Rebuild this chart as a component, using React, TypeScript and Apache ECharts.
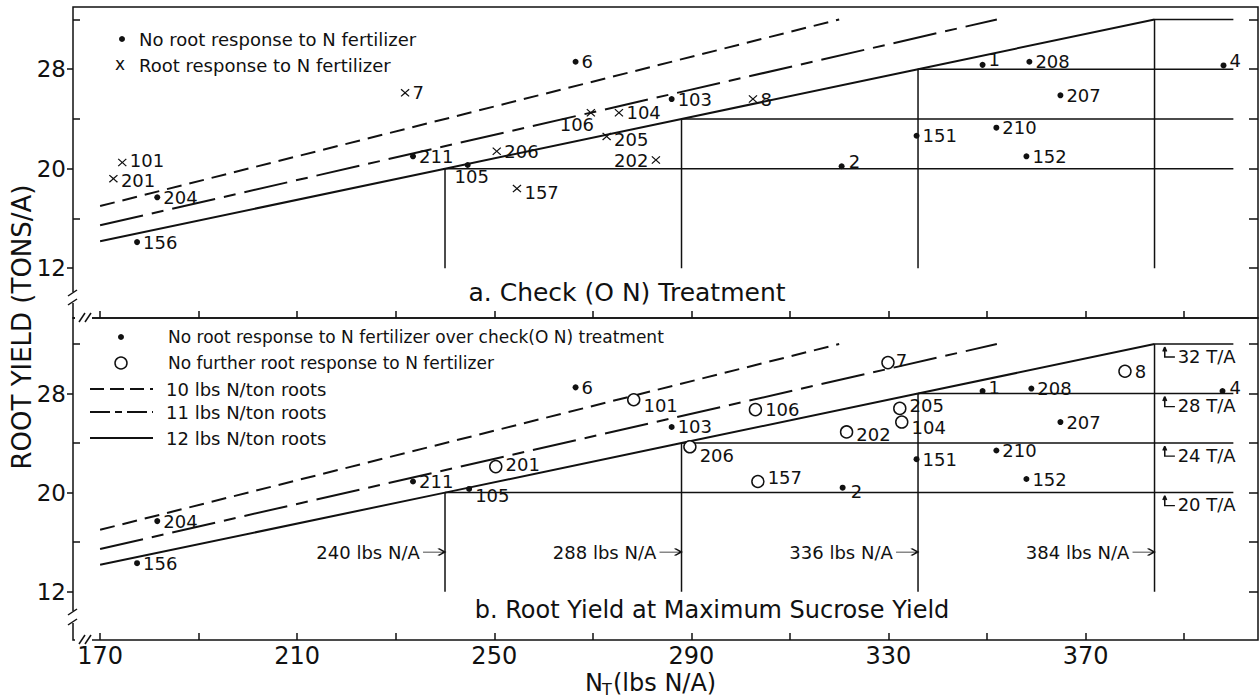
import React, { useEffect, useRef } from "react";
import * as echarts from "echarts";

const FONT = "DejaVu Sans";
const INK = "#111111";

// ---------- Panel a: Check (O N) treatment ----------
const aDotIds = ["156", "204", "211", "105", "6", "103", "2", "151", "1", "208", "207", "210", "152", "4"];
const aDotN = [177.5, 181.6, 233.5, 244.6, 266.5, 286, 320.5, 335.7, 349.1, 358.6, 364.9, 351.9, 358, 398];
const aDotY = [14.1, 17.7, 21.0, 20.3, 28.6, 25.6, 20.2, 22.65, 28.35, 28.6, 25.9, 23.3, 21.0, 28.3];

const aCrossIds = ["101", "201", "7", "106", "104", "205", "202", "206", "157", "8"];
const aCrossN = [174.5, 172.7, 231.9, 269.6, 275.3, 272.8, 282.8, 250.5, 254.6, 302.5];
const aCrossY = [20.5, 19.2, 26.1, 24.5, 24.5, 22.6, 20.7, 21.4, 18.4, 25.6];

// ---------- Panel b: Root yield at maximum sucrose yield ----------
const bDotIds = ["156", "204", "211", "105", "6", "103", "2", "151", "1", "208", "207", "210", "152", "4"];
const bDotN = [177.5, 181.6, 233.5, 244.9, 266.5, 286, 320.7, 335.7, 349.1, 359, 364.9, 351.9, 358, 397.8];
const bDotY = [14.3, 17.7, 20.9, 20.3, 28.5, 25.3, 20.4, 22.7, 28.2, 28.4, 25.7, 23.4, 21.1, 28.2];

const bCircleIds = ["101", "201", "206", "106", "157", "7", "8", "205", "104", "202"];
const bCircleN = [278.3, 250.3, 289.7, 303, 303.5, 329.9, 378, 332.3, 332.7, 321.5];
const bCircleY = [27.5, 22.1, 23.7, 26.7, 20.9, 30.5, 29.8, 26.8, 25.7, 24.9];

// ---------- Reference lines (lbs N per ton of roots) ----------
const line10N = [170, 320];
const line10Y = [17, 32];
const line11N = [170, 352];
const line11Y = [15.45, 32];
const line12N = [170, 240, 288, 336, 384];
const line12Y = [14.17, 20, 24, 28, 32];

const thresholdN = [240, 288, 336, 384];
const thresholdYield = [20, 24, 28, 32];
const stepFloor = 12;
const stepEnd = 400;
const naArrowY = 15.2;
const taArrowN = 385.7;

// ---------- Axis ticks ----------
const xTicks = [170, 190, 210, 230, 250, 270, 290, 310, 330, 350, 370, 390];
const xLabels = [170, 210, 250, 290, 330, 370];
const yLabelTicks = [12, 20, 28];
const yMinorTicks = [16, 24, 32];
const yAllTicks = [12, 16, 20, 24, 28, 32];

// label placement tweaks (px), keyed by id
const aLabelPlace: Record<string, any> = {
  "101": { offset: [0, -2] },
  "201": { offset: [0, 2] },
  "106": { position: "bottom", offset: [-14, -3] },
  "105": { position: "bottom", offset: [4, -2] },
  "202": { position: "left" },
  "2": { offset: [1, -5] },
  "1": { offset: [0, -5] },
  "4": { offset: [0, -5] },
  "205": { offset: [0, 3] },
  "157": { offset: [0, 4] },
};
const bLabelPlace: Record<string, any> = {
  "101": { offset: [0, 6] },
  "201": { offset: [0, -2] },
  "206": { offset: [0, 9] },
  "157": { offset: [0, -4] },
  "7": { offset: [-2, -2] },
  "205": { offset: [0, -3] },
  "104": { offset: [0, 5] },
  "202": { offset: [0, 3] },
  "105": { offset: [0, 7] },
  "2": { offset: [2, 4] },
  "1": { offset: [0, -4] },
  "4": { offset: [1, -4] },
};

const CROSS = "path://M0,1 L1,0 L5,4 L9,0 L10,1 L6,5 L10,9 L9,10 L5,6 L1,10 L0,9 L4,5 Z";
const HOOK = "path://M2,0 L2,9 L13,9 M2,0 L0,4 M2,0 L4,4";
const ARROW = "path://M0,3 L20,3 M14,0 L20,3 L14,6";

const pts = (n: number[], y: number[]) => n.map((v, i) => [v, y[i]]);

const labelBase = {
  show: true,
  position: "right",
  distance: 3,
  formatter: "{b}",
  fontSize: 18,
  lineHeight: 15,
  fontFamily: FONT,
  color: INK,
};

function scatterItems(ids: string[], n: number[], y: number[], place: Record<string, any>) {
  return ids.map((id, i) => ({
    name: id,
    value: [n[i], y[i]],
    label: place[id] ? { ...place[id] } : undefined,
  }));
}

function panelSeries(xi: number, yi: number, panel: "a" | "b") {
  const common = { xAxisIndex: xi, yAxisIndex: yi };
  const s: any[] = [];
  s.push({
    ...common,
    type: "line",
    symbol: "none",
    data: pts(line10N, line10Y),
    lineStyle: { color: INK, width: 2, type: [15, 8] },
    z: 2,
  });
  s.push({
    ...common,
    type: "line",
    symbol: "none",
    data: pts(line11N, line11Y),
    lineStyle: { color: INK, width: 2, type: [44, 9, 12, 9] },
    z: 2,
  });
  s.push({
    ...common,
    type: "line",
    symbol: "none",
    data: pts(line12N, line12Y),
    lineStyle: { color: INK, width: 2 },
    z: 2,
  });
  thresholdN.forEach((n, i) => {
    s.push({
      ...common,
      type: "line",
      symbol: "none",
      data: [
        [n, stepFloor],
        [n, thresholdYield[i]],
        [stepEnd, thresholdYield[i]],
      ],
      lineStyle: { color: INK, width: 1.5 },
      z: 2,
    });
  });
  if (panel === "a") {
    s.push({
      ...common,
      type: "scatter",
      symbol: "circle",
      symbolSize: 6,
      itemStyle: { color: INK, opacity: 1 },
      label: labelBase,
      data: scatterItems(aDotIds, aDotN, aDotY, aLabelPlace),
      z: 5,
    });
    s.push({
      ...common,
      type: "scatter",
      symbol: CROSS,
      symbolSize: [9, 8],
      itemStyle: { color: INK, opacity: 1 },
      label: labelBase,
      data: scatterItems(aCrossIds, aCrossN, aCrossY, aLabelPlace),
      z: 5,
    });
  } else {
    s.push({
      ...common,
      type: "scatter",
      symbol: "circle",
      symbolSize: 6,
      itemStyle: { color: INK, opacity: 1 },
      label: labelBase,
      data: scatterItems(bDotIds, bDotN, bDotY, bLabelPlace),
      z: 5,
    });
    s.push({
      ...common,
      type: "scatter",
      symbol: "circle",
      symbolSize: 12,
      itemStyle: { color: "#fff", borderColor: INK, borderWidth: 1.5, opacity: 1 },
      label: labelBase,
      data: scatterItems(bCircleIds, bCircleN, bCircleY, bLabelPlace),
      z: 5,
    });
    // N/A arrows at each threshold
    s.push({
      ...common,
      type: "scatter",
      symbol: ARROW,
      symbolSize: [22, 7],
      symbolOffset: [-11, 0],
      itemStyle: { color: "transparent", borderColor: INK, borderWidth: 1.4, opacity: 1 },
      label: { ...labelBase, position: "left", distance: 2 },
      data: thresholdN.map((n) => ({ name: `${n} lbs N/A`, value: [n, naArrowY] })),
      z: 5,
    });
    // T/A hook arrows
    s.push({
      ...common,
      type: "scatter",
      symbol: HOOK,
      symbolSize: [12, 10],
      symbolOffset: [6, 8],
      itemStyle: { color: "transparent", borderColor: INK, borderWidth: 1.4, opacity: 1 },
      label: { ...labelBase, position: "right", distance: 2, offset: [0, 4] },
      data: thresholdYield.map((y) => ({ name: `${y} T/A`, value: [taArrowN, y] })),
      z: 5,
    });
  }
  return s;
}

function xAxisCfg(grid: number, labels: boolean) {
  return {
    gridIndex: grid,
    type: "value",
    min: 164.5,
    max: 405,
    axisLine: { show: false },
    splitLine: { show: false },
    axisTick: { show: true, inside: true, length: 7, customValues: xTicks, lineStyle: { color: INK, width: 1.5 } },
    axisLabel: labels
      ? { show: true, customValues: xLabels, fontSize: 24, fontFamily: FONT, color: INK, margin: 4 }
      : { show: false },
  };
}

function yAxesCfg(grid: number, min: number, max: number) {
  const base = {
    gridIndex: grid,
    type: "value",
    min,
    max,
    axisLine: { show: false },
    splitLine: { show: false },
  };
  return [
    {
      ...base,
      position: "left",
      axisTick: { show: true, inside: false, length: 6, customValues: yLabelTicks, lineStyle: { color: INK, width: 1.5 } },
      axisLabel: { show: true, customValues: yLabelTicks, fontSize: 23, fontFamily: FONT, color: INK, margin: 7 },
    },
    {
      ...base,
      position: "left",
      axisTick: { show: true, inside: true, length: 7, customValues: yMinorTicks, lineStyle: { color: INK, width: 1.5 } },
      axisLabel: { show: false },
    },
    {
      ...base,
      position: "right",
      axisTick: { show: true, inside: true, length: 9, customValues: yAllTicks, lineStyle: { color: INK, width: 1.5 } },
      axisLabel: { show: false },
    },
  ];
}

const txt = (x: number, y: number, text: string, size: number, extra: any = {}) => ({
  type: "text",
  x,
  y,
  z: 100,
  style: { text, fontSize: size, fontFamily: FONT, fill: INK, align: "left", verticalAlign: "middle", ...extra },
});
const seg = (x1: number, y1: number, x2: number, y2: number, extra: any = {}) => ({
  type: "line",
  z: 100,
  shape: { x1, y1, x2, y2 },
  style: { stroke: INK, lineWidth: 1.5, ...extra },
});
const white = (x: number, y: number, w: number, h: number) => ({
  type: "rect",
  z: 99,
  shape: { x, y, width: w, height: h },
  style: { fill: "#fff" },
});

const graphics: any[] = [
  // axis breaks, panel a
  white(66, 292, 14, 11),
  white(75, 314, 17, 8),
  seg(68, 296, 77, 290),
  seg(68, 305, 77, 299),
  seg(79, 322, 85, 313),
  seg(85, 322, 91, 313),
  // axis breaks, panel b
  white(66, 611, 14, 12),
  white(75, 636, 17, 8),
  seg(68, 615, 77, 609),
  seg(68, 625, 77, 619),
  seg(79, 644, 85, 635),
  seg(85, 644, 91, 635),
  // axis titles
  {
    type: "text",
    x: 22,
    y: 327,
    rotation: Math.PI / 2,
    z: 100,
    style: { text: "ROOT YIELD (TONS/A)", fontSize: 26, fontFamily: FONT, fill: INK, align: "center", verticalAlign: "middle" },
  },
  txt(585, 683, "N", 24),
  txt(602, 689, "T", 16),
  txt(613, 683, "(lbs N/A)", 24),
  // panel titles
  txt(627, 292, "a. Check (O N) Treatment", 25, { align: "center" }),
  txt(712, 610, "b. Root Yield at Maximum Sucrose Yield", 24, { align: "center" }),
  // legend panel a
  { type: "circle", z: 100, shape: { cx: 122, cy: 39, r: 3 }, style: { fill: INK } },
  txt(139, 39, "No root response to N fertilizer", 18),
  txt(120, 64, "x", 17, { align: "center" }),
  txt(139, 65, "Root response to N fertilizer", 18),
  // legend panel b
  { type: "circle", z: 100, shape: { cx: 121, cy: 337, r: 3 }, style: { fill: INK } },
  txt(168, 337, "No root response to N fertilizer over check(O N) treatment", 17),
  { type: "circle", z: 100, shape: { cx: 121, cy: 363, r: 6 }, style: { fill: "#fff", stroke: INK, lineWidth: 1.5 } },
  txt(168, 363, "No further root response to N fertilizer", 17),
  seg(90, 389, 153, 389, { lineWidth: 2, lineDash: [14, 6] }),
  txt(166, 389, "10 lbs N/ton roots", 18),
  seg(90, 412, 153, 412, { lineWidth: 2, lineDash: [20, 5, 7, 5] }),
  txt(166, 412, "11 lbs N/ton roots", 18),
  seg(90, 438, 153, 438, { lineWidth: 2 }),
  txt(166, 438, "12 lbs N/ton roots", 18),
];

const gridStyle = { show: true, borderColor: INK, borderWidth: 1.5, backgroundColor: "transparent" };

const option: any = {
  animation: false,
  backgroundColor: "#fff",
  grid: [
    { ...gridStyle, left: 73, top: 7, width: 1185, height: 311 },
    { ...gridStyle, left: 73, top: 318, width: 1185, height: 322 },
  ],
  xAxis: [xAxisCfg(0, false), xAxisCfg(1, true)],
  yAxis: [...yAxesCfg(0, 8, 33), ...yAxesCfg(1, 8.1, 34.1)],
  series: [...panelSeries(0, 0, "a"), ...panelSeries(1, 3, "b")],
  graphic: graphics,
};

export default function App() {
  const ref = useRef<HTMLDivElement>(null);
  useEffect(() => {
    const chart = echarts.init(ref.current!, null, { renderer: "svg" });
    chart.setOption(option);
    return () => chart.dispose();
  }, []);
  return <div ref={ref} style={{ position: "absolute", left: 0, top: 0, width: 1260, height: 700 }} />;
}
